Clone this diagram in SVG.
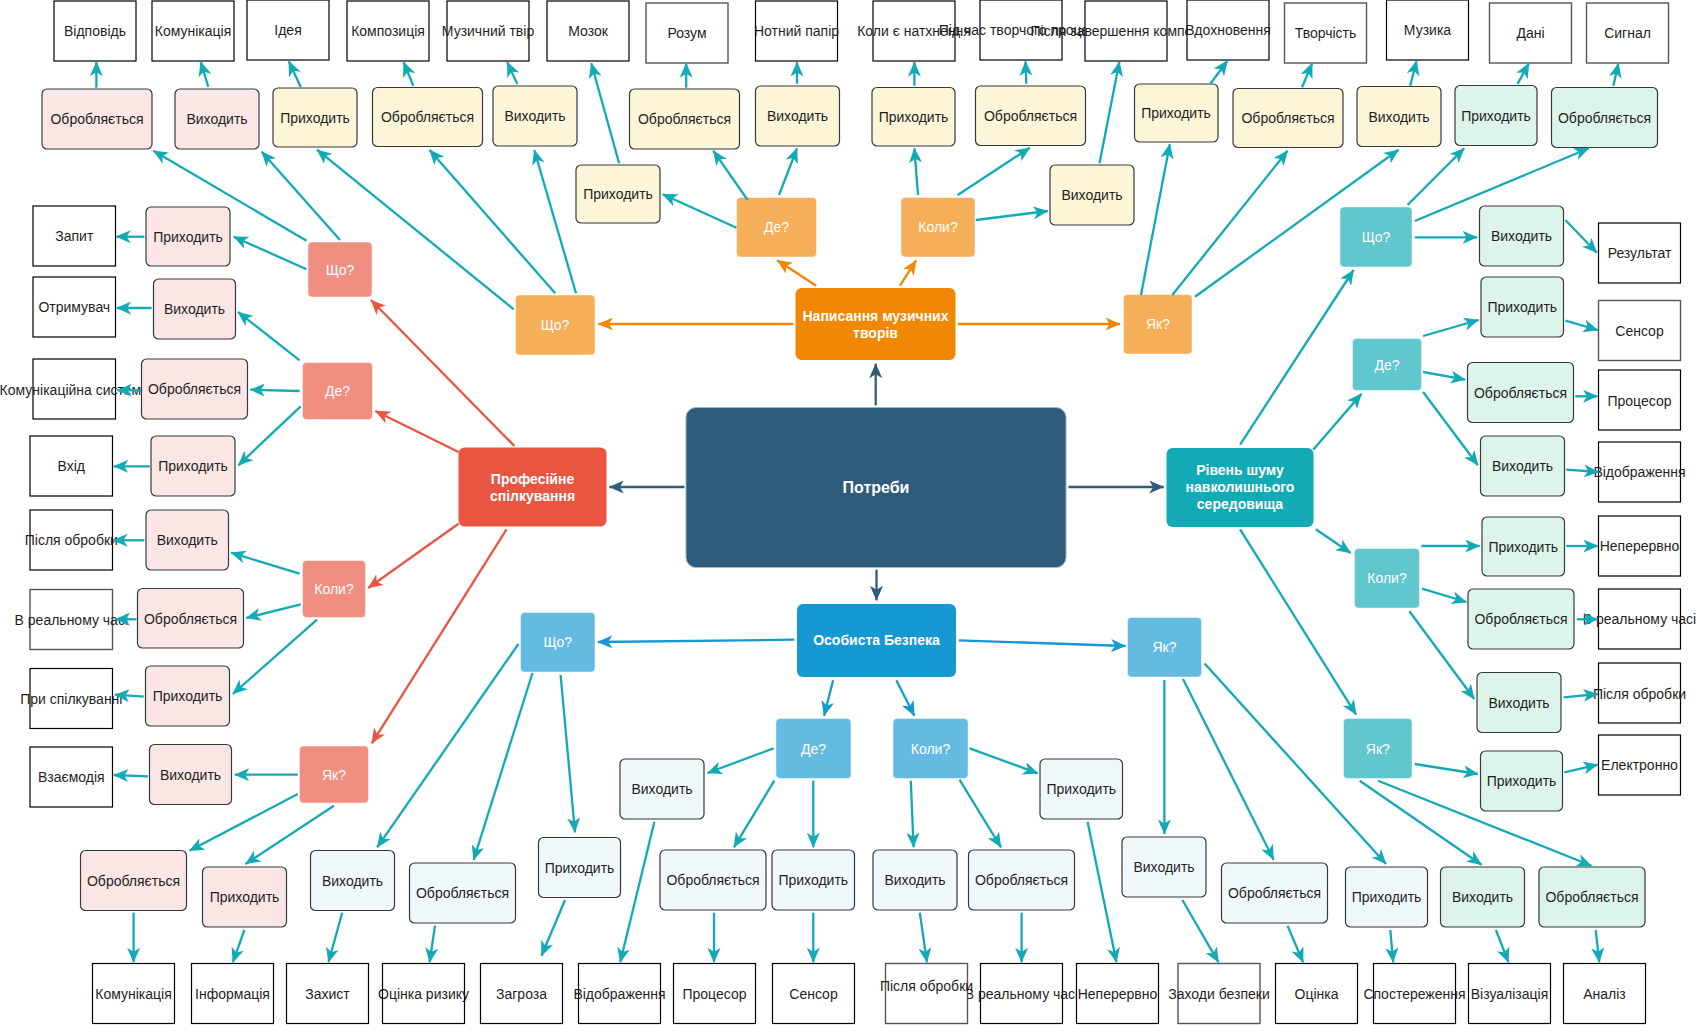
<svg xmlns="http://www.w3.org/2000/svg" width="1697" height="1025" viewBox="0 0 1697 1025">
<defs>
<style>
text{font-family:"Liberation Sans",Arial,sans-serif;font-size:14px;text-anchor:middle;fill:#1f1f1f}
.w{fill:#fff}
.b{font-weight:bold}
.l4{fill:#fff;stroke:#000;stroke-width:1.2}
.l4g{fill:#fff;stroke:#555;stroke-width:1.4}
.l3{stroke:#36393d;stroke-width:1.2}
.pk{fill:#fae6e4}
.yl{fill:#fcf5d7}
.gr{fill:#ddf4ea}
.bl{fill:#f0f8fb}
.q{stroke:#ffffff;stroke-opacity:.45;stroke-width:1}
.qs{fill:#f08e81}
.qo{fill:#f5af58}
.qt{fill:#61c6ce}
.qb{fill:#64bbe2}
#links line{fill:none;stroke-width:2.3}
.ct{stroke:#12aab5;marker-end:url(#mt)}
.cd{stroke:#2f5b7c;marker-end:url(#md)}
.co{stroke:#f08705;marker-end:url(#mo)}
.cr{stroke:#e85642;marker-end:url(#mr)}
.cb{stroke:#1699d3;marker-end:url(#mb)}
</style>
<marker id="mt" viewBox="0 0 15 13" markerWidth="15" markerHeight="13" refX="14.5" refY="6.5" orient="auto" markerUnits="userSpaceOnUse"><path d="M0,0 L15,6.5 L0,13 L4,6.5 Z" fill="#12aab5"/></marker>
<marker id="md" viewBox="0 0 15 13" markerWidth="15" markerHeight="13" refX="14.5" refY="6.5" orient="auto" markerUnits="userSpaceOnUse"><path d="M0,0 L15,6.5 L0,13 L4,6.5 Z" fill="#2f5b7c"/></marker>
<marker id="mo" viewBox="0 0 15 13" markerWidth="15" markerHeight="13" refX="14.5" refY="6.5" orient="auto" markerUnits="userSpaceOnUse"><path d="M0,0 L15,6.5 L0,13 L4,6.5 Z" fill="#f08705"/></marker>
<marker id="mr" viewBox="0 0 15 13" markerWidth="15" markerHeight="13" refX="14.5" refY="6.5" orient="auto" markerUnits="userSpaceOnUse"><path d="M0,0 L15,6.5 L0,13 L4,6.5 Z" fill="#e85642"/></marker>
<marker id="mb" viewBox="0 0 15 13" markerWidth="15" markerHeight="13" refX="14.5" refY="6.5" orient="auto" markerUnits="userSpaceOnUse"><path d="M0,0 L15,6.5 L0,13 L4,6.5 Z" fill="#1699d3"/></marker>
</defs>
<rect width="1697" height="1025" fill="#fff"/>

<g id="nodes">
<!-- top row: leaf boxes -->
<g id="leaf-vidpovid"><rect class="l4" x="54" y="1" width="82" height="60"/><text x="95" y="36">Відповідь</text></g>
<g id="leaf-komunikatsiia-1"><rect class="l4" x="152" y="1" width="82" height="60"/><text x="193" y="36">Комунікація</text></g>
<g id="leaf-ideia"><rect class="l4" x="247" y="0" width="82" height="60"/><text x="288" y="35">Ідея</text></g>
<g id="leaf-kompozytsiia"><rect class="l4" x="347" y="1" width="82" height="60"/><text x="388" y="36">Композиція</text></g>
<g id="leaf-muz-tvir"><rect class="l4" x="447" y="1" width="82" height="60"/><text x="488" y="36">Музичний твір</text></g>
<g id="leaf-mozok"><rect class="l4" x="547" y="1" width="82" height="60"/><text x="588" y="36">Мозок</text></g>
<g id="leaf-rozum"><rect class="l4g" x="646" y="3" width="82" height="60"/><text x="687" y="38">Розум</text></g>
<g id="leaf-notnyi"><rect class="l4" x="755.5" y="1" width="82" height="60"/><text x="796.5" y="36">Нотний папір</text></g>
<g id="leaf-koly-natkh"><rect class="l4" x="873" y="1" width="82" height="60"/><text x="914" y="36">Коли є натхнення</text></g>
<g id="leaf-pid-chas"><rect class="l4" x="980" y="0" width="82" height="60"/><text x="1021" y="35">Під час творчого процесу</text></g>
<g id="leaf-pislia-zav"><rect class="l4" x="1085" y="1" width="82" height="60"/><text x="1126" y="36">Після завершення композиції</text></g>
<g id="leaf-vdokh"><rect class="l4" x="1187" y="0" width="82" height="60"/><text x="1228" y="35">Вдохновення</text></g>
<g id="leaf-tvorchist"><rect class="l4g" x="1284.5" y="3" width="82" height="60"/><text x="1325.5" y="38">Творчість</text></g>
<g id="leaf-muzyka"><rect class="l4" x="1386.5" y="0" width="82" height="60"/><text x="1427.5" y="35">Музика</text></g>
<g id="leaf-dani"><rect class="l4g" x="1489.5" y="3" width="82" height="60"/><text x="1530.5" y="38">Дані</text></g>
<g id="leaf-syhnal"><rect class="l4g" x="1586.5" y="3" width="82" height="60"/><text x="1627.5" y="38">Сигнал</text></g>

<!-- top row: action boxes -->
<g id="a-p1"><rect class="l3 pk" x="42" y="89" width="110" height="60" rx="5"/><text x="97" y="124">Обробляється</text></g>
<g id="a-p2"><rect class="l3 pk" x="175" y="89" width="84" height="60" rx="5"/><text x="217" y="124">Виходить</text></g>
<g id="a-y1"><rect class="l3 yl" x="273" y="88" width="84" height="59" rx="5"/><text x="315" y="122.5">Приходить</text></g>
<g id="a-y2"><rect class="l3 yl" x="372.5" y="87.5" width="110" height="59" rx="5"/><text x="427.5" y="122">Обробляється</text></g>
<g id="a-y3"><rect class="l3 yl" x="493" y="86" width="84" height="60" rx="5"/><text x="535" y="121">Виходить</text></g>
<g id="a-y4"><rect class="l3 yl" x="576" y="165" width="84" height="58" rx="5"/><text x="618" y="199">Приходить</text></g>
<g id="a-y5"><rect class="l3 yl" x="629.5" y="89" width="110" height="60" rx="5"/><text x="684.5" y="124">Обробляється</text></g>
<g id="a-y6"><rect class="l3 yl" x="755.5" y="86" width="84" height="60" rx="5"/><text x="797.5" y="121">Виходить</text></g>
<g id="a-y7"><rect class="l3 yl" x="872" y="87.5" width="83" height="58.5" rx="5"/><text x="913.5" y="122">Приходить</text></g>
<g id="a-y8"><rect class="l3 yl" x="975.5" y="86" width="110" height="59.5" rx="5"/><text x="1030.5" y="120.5">Обробляється</text></g>
<g id="a-y9"><rect class="l3 yl" x="1050" y="165" width="84" height="60" rx="5"/><text x="1092" y="200">Виходить</text></g>
<g id="a-y10"><rect class="l3 yl" x="1134.5" y="84" width="83.5" height="58" rx="5"/><text x="1176" y="118">Приходить</text></g>
<g id="a-y11"><rect class="l3 yl" x="1233" y="88.5" width="110" height="59" rx="5"/><text x="1288" y="123">Обробляється</text></g>
<g id="a-y12"><rect class="l3 yl" x="1357" y="86.5" width="84" height="60" rx="5"/><text x="1399" y="121.5">Виходить</text></g>
<g id="a-g1"><rect class="l3 gr" x="1455" y="85.5" width="82" height="60" rx="5"/><text x="1496" y="120.5">Приходить</text></g>
<g id="a-g2"><rect class="l3 gr" x="1551.5" y="87.5" width="106" height="60" rx="5"/><text x="1604.5" y="122.5">Обробляється</text></g>

<!-- main topics -->
<g id="root"><rect x="686" y="407.5" width="380" height="160" rx="10" fill="#2f5b7c" stroke="#9fb3c4" stroke-width="1"/><text class="w b" x="876" y="493" style="font-size:16px">Потреби</text></g>
<g id="topic-music"><rect x="795.5" y="288" width="160" height="72" rx="6" fill="#f08705"/><text class="w b"><tspan x="875.5" y="321">Написання музичних</tspan><tspan x="875.5" y="337.7">творів</tspan></text></g>
<g id="topic-prof"><rect x="458.5" y="447.5" width="148" height="79" rx="6" fill="#e85642"/><text class="w b"><tspan x="532.5" y="483.7">Професійне</tspan><tspan x="532.5" y="501">спілкування</tspan></text></g>
<g id="topic-noise"><rect x="1166.5" y="448" width="147" height="79" rx="6" fill="#12aab5"/><text class="w b"><tspan x="1240" y="475.3">Рівень шуму</tspan><tspan x="1240" y="492.3">навколишнього</tspan><tspan x="1240" y="509.3">середовища</tspan></text></g>
<g id="topic-safety"><rect x="797" y="604" width="159" height="73" rx="6" fill="#1699d3"/><text class="w b" x="876.5" y="645">Особиста Безпека</text></g>

<!-- question boxes -->
<g id="q-prof-what"><rect class="q qs" x="308" y="242" width="64" height="55" rx="4"/><text class="w" x="340" y="274.5">Що?</text></g>
<g id="q-prof-where"><rect class="q qs" x="302.5" y="362.5" width="70" height="57" rx="4"/><text class="w" x="337.5" y="396">Де?</text></g>
<g id="q-prof-when"><rect class="q qs" x="302.5" y="560.5" width="63" height="57" rx="4"/><text class="w" x="334" y="594">Коли?</text></g>
<g id="q-prof-how"><rect class="q qs" x="299.5" y="746" width="69" height="57" rx="4"/><text class="w" x="334" y="779.5">Як?</text></g>
<g id="q-music-what"><rect class="q qo" x="515.5" y="295" width="79.5" height="60" rx="4"/><text class="w" x="555" y="330">Що?</text></g>
<g id="q-music-where"><rect class="q qo" x="736.5" y="197.5" width="80" height="59.5" rx="4"/><text class="w" x="776.5" y="232">Де?</text></g>
<g id="q-music-when"><rect class="q qo" x="901" y="197.5" width="74" height="59.5" rx="4"/><text class="w" x="938" y="232">Коли?</text></g>
<g id="q-music-how"><rect class="q qo" x="1123.5" y="294.5" width="68.5" height="59.5" rx="4"/><text class="w" x="1158" y="329">Як?</text></g>
<g id="q-noise-what"><rect class="q qt" x="1340" y="207" width="72" height="60" rx="4"/><text class="w" x="1376" y="242">Що?</text></g>
<g id="q-noise-where"><rect class="q qt" x="1352.5" y="338.5" width="69" height="52" rx="4"/><text class="w" x="1387" y="369.5">Де?</text></g>
<g id="q-noise-when"><rect class="q qt" x="1354.5" y="548.5" width="65" height="59.5" rx="4"/><text class="w" x="1387" y="583">Коли?</text></g>
<g id="q-noise-how"><rect class="q qt" x="1343.5" y="718.5" width="68.5" height="60" rx="4"/><text class="w" x="1377.8" y="753.5">Як?</text></g>
<g id="q-safe-what"><rect class="q qb" x="520.5" y="612.5" width="74.5" height="59.5" rx="4"/><text class="w" x="557.8" y="647">Що?</text></g>
<g id="q-safe-where"><rect class="q qb" x="776" y="718.5" width="75" height="60" rx="4"/><text class="w" x="813.5" y="753.5">Де?</text></g>
<g id="q-safe-when"><rect class="q qb" x="893" y="718.5" width="75" height="60" rx="4"/><text class="w" x="930.5" y="753.5">Коли?</text></g>
<g id="q-safe-how"><rect class="q qb" x="1127.5" y="617.5" width="74" height="59.5" rx="4"/><text class="w" x="1164.5" y="652">Як?</text></g>

<!-- professional communication branch: left column -->
<g id="leaf-zapyt"><rect class="l4" x="33" y="206" width="82.5" height="60"/><text x="74.3" y="241">Запит</text></g>
<g id="leaf-otrymuvach"><rect class="l4" x="33" y="277" width="82.5" height="60"/><text x="74.3" y="312">Отримувач</text></g>
<g id="leaf-kom-syst"><rect class="l4" x="33" y="359" width="82.5" height="60"/><text x="74.3" y="395">Комунікаційна система</text></g>
<g id="leaf-vkhid"><rect class="l4" x="30" y="436" width="82.5" height="60"/><text x="71.3" y="471">Вхід</text></g>
<g id="leaf-pislia-1"><rect class="l4" x="30" y="510" width="82.5" height="60"/><text x="71.3" y="545">Після обробки</text></g>
<g id="leaf-realtime-1"><rect class="l4g" x="30" y="589.5" width="82.5" height="60"/><text x="71.3" y="624.5">В реальному часі</text></g>
<g id="leaf-pry-spilk"><rect class="l4" x="30" y="668.5" width="82.5" height="60"/><text x="71.3" y="704">При спілкуванні</text></g>
<g id="leaf-vzaiemodiia"><rect class="l4" x="30" y="747" width="82.5" height="60"/><text x="71.3" y="782">Взаємодія</text></g>
<g id="a-p3"><rect class="l3 pk" x="146" y="207" width="84" height="59" rx="5"/><text x="188" y="241.5">Приходить</text></g>
<g id="a-p4"><rect class="l3 pk" x="153.5" y="279" width="82" height="60" rx="5"/><text x="194.5" y="314">Виходить</text></g>
<g id="a-p5"><rect class="l3 pk" x="141.5" y="359" width="106" height="60" rx="5"/><text x="194.5" y="394">Обробляється</text></g>
<g id="a-p6"><rect class="l3 pk" x="151" y="436" width="84" height="60" rx="5"/><text x="193" y="471">Приходить</text></g>
<g id="a-p7"><rect class="l3 pk" x="146" y="510" width="82.5" height="60" rx="5"/><text x="187.3" y="545">Виходить</text></g>
<g id="a-p8"><rect class="l3 pk" x="137.5" y="588.5" width="106" height="59.5" rx="5"/><text x="190.5" y="623.5">Обробляється</text></g>
<g id="a-p9"><rect class="l3 pk" x="145.5" y="666" width="84" height="60" rx="5"/><text x="187.5" y="701">Приходить</text></g>
<g id="a-p10"><rect class="l3 pk" x="149.5" y="744.5" width="82" height="60" rx="5"/><text x="190.5" y="779.5">Виходить</text></g>
<g id="a-p11"><rect class="l3 pk" x="80.5" y="850.5" width="106" height="60" rx="5"/><text x="133.5" y="885.5">Обробляється</text></g>
<g id="a-p12"><rect class="l3 pk" x="202.5" y="867" width="84" height="60" rx="5"/><text x="244.5" y="902">Приходить</text></g>

<!-- noise branch: right column -->
<g id="a-g3"><rect class="l3 gr" x="1479.5" y="206" width="84" height="60" rx="5"/><text x="1521.5" y="241">Виходить</text></g>
<g id="leaf-rezultat"><rect class="l4" x="1598.5" y="223" width="82" height="60"/><text x="1639.5" y="258">Результат</text></g>
<g id="a-g4"><rect class="l3 gr" x="1481" y="277" width="82.5" height="60" rx="5"/><text x="1522.3" y="312">Приходить</text></g>
<g id="leaf-sensor-1"><rect class="l4g" x="1598.5" y="300.5" width="82" height="60"/><text x="1639.5" y="336">Сенсор</text></g>
<g id="a-g5"><rect class="l3 gr" x="1467.5" y="362.5" width="106" height="60" rx="5"/><text x="1520.5" y="397.5">Обробляється</text></g>
<g id="leaf-protsesor-1"><rect class="l4" x="1598.5" y="370" width="82" height="60"/><text x="1639.5" y="406">Процесор</text></g>
<g id="a-g6"><rect class="l3 gr" x="1480.5" y="436" width="84" height="60" rx="5"/><text x="1522.5" y="471">Виходить</text></g>
<g id="leaf-vidobr-1"><rect class="l4" x="1598.5" y="442" width="82" height="60"/><text x="1639.5" y="477">Відображення</text></g>
<g id="a-g7"><rect class="l3 gr" x="1482" y="517" width="82.5" height="59" rx="5"/><text x="1523.3" y="551.5">Приходить</text></g>
<g id="leaf-neperervno-1"><rect class="l4" x="1598.5" y="516" width="82" height="60"/><text x="1639.5" y="551">Неперервно</text></g>
<g id="a-g8"><rect class="l3 gr" x="1468" y="589" width="106" height="60" rx="5"/><text x="1521" y="624">Обробляється</text></g>
<g id="leaf-realtime-2"><rect class="l4" x="1598.5" y="589" width="82" height="60"/><text x="1639.5" y="624">В реальному часі</text></g>
<g id="a-g9"><rect class="l3 gr" x="1477" y="672.5" width="84" height="60" rx="5"/><text x="1519" y="707.5">Виходить</text></g>
<g id="leaf-pislia-2"><rect class="l4" x="1598.5" y="663" width="82" height="60"/><text x="1639.5" y="699">Після обробки</text></g>
<g id="a-g10"><rect class="l3 gr" x="1480.5" y="751" width="82" height="60" rx="5"/><text x="1521.5" y="786">Приходить</text></g>
<g id="leaf-elektronno"><rect class="l4" x="1598.5" y="735" width="82" height="60"/><text x="1639.5" y="770">Електронно</text></g>
<g id="a-g11"><rect class="l3 gr" x="1440.5" y="867" width="84" height="60" rx="5"/><text x="1482.5" y="902">Виходить</text></g>
<g id="a-g12"><rect class="l3 gr" x="1539" y="867" width="106" height="60" rx="5"/><text x="1592" y="902">Обробляється</text></g>

<!-- personal safety branch -->
<g id="a-b1"><rect class="l3 bl" x="310.5" y="850.5" width="84" height="60" rx="5"/><text x="352.5" y="885.5">Виходить</text></g>
<g id="a-b2"><rect class="l3 bl" x="409.5" y="863" width="106" height="60" rx="5"/><text x="462.5" y="898">Обробляється</text></g>
<g id="a-b3"><rect class="l3 bl" x="538.5" y="837.5" width="82" height="60" rx="5"/><text x="579.5" y="872.5">Приходить</text></g>
<g id="a-b4"><rect class="l3 bl" x="620" y="759" width="84" height="60" rx="5"/><text x="662" y="794">Виходить</text></g>
<g id="a-b5"><rect class="l3 bl" x="660" y="850" width="106" height="60" rx="5"/><text x="713" y="885">Обробляється</text></g>
<g id="a-b6"><rect class="l3 bl" x="772" y="850" width="82.5" height="60" rx="5"/><text x="813.3" y="885">Приходить</text></g>
<g id="a-b7"><rect class="l3 bl" x="873" y="850" width="84" height="60" rx="5"/><text x="915" y="885">Виходить</text></g>
<g id="a-b8"><rect class="l3 bl" x="968.5" y="850" width="106" height="60" rx="5"/><text x="1021.5" y="885">Обробляється</text></g>
<g id="a-b9"><rect class="l3 bl" x="1040" y="759" width="82.5" height="60" rx="5"/><text x="1081.3" y="794">Приходить</text></g>
<g id="a-b10"><rect class="l3 bl" x="1122" y="837" width="84" height="60" rx="5"/><text x="1164" y="872">Виходить</text></g>
<g id="a-b11"><rect class="l3 bl" x="1221.5" y="863" width="106" height="60" rx="5"/><text x="1274.5" y="898">Обробляється</text></g>
<g id="a-b12"><rect class="l3 bl" x="1345.5" y="867" width="82" height="60" rx="5"/><text x="1386.5" y="902">Приходить</text></g>

<!-- bottom row: leaf boxes -->
<g id="leaf-komunikatsiia-2"><rect class="l4" x="92.5" y="963.5" width="82" height="60"/><text x="133.5" y="998.5">Комунікація</text></g>
<g id="leaf-informatsiia"><rect class="l4" x="191.5" y="963.5" width="82" height="60"/><text x="232.5" y="998.5">Інформація</text></g>
<g id="leaf-zakhyst"><rect class="l4" x="286.5" y="963.5" width="82" height="60"/><text x="327.5" y="998.5">Захист</text></g>
<g id="leaf-otsinka-ryzyku"><rect class="l4" x="382.5" y="963.5" width="82" height="60"/><text x="423.5" y="998.5">Оцінка ризику</text></g>
<g id="leaf-zahroza"><rect class="l4" x="480.5" y="963.5" width="82" height="60"/><text x="521.5" y="998.5">Загроза</text></g>
<g id="leaf-vidobr-2"><rect class="l4" x="578.5" y="963.5" width="82" height="60"/><text x="619.5" y="998.5">Відображення</text></g>
<g id="leaf-protsesor-2"><rect class="l4" x="673.5" y="963.5" width="82" height="60"/><text x="714.5" y="998.5">Процесор</text></g>
<g id="leaf-sensor-2"><rect class="l4" x="772.5" y="963.5" width="82" height="60"/><text x="813.5" y="998.5">Сенсор</text></g>
<g id="leaf-realtime-3"><rect class="l4" x="980.5" y="963.5" width="82" height="60"/><text x="1021.5" y="998.5">В реальному часі</text></g>
<g id="leaf-pislia-3"><rect class="l4g" x="885.5" y="963.5" width="82" height="60"/><text x="926.5" y="991">Після обробки</text></g>
<g id="leaf-neperervno-2"><rect class="l4" x="1076.5" y="963.5" width="82" height="60"/><text x="1117.5" y="998.5">Неперервно</text></g>
<g id="leaf-zakhody"><rect class="l4g" x="1178" y="963.5" width="82" height="60"/><text x="1219" y="998.5">Заходи безпеки</text></g>
<g id="leaf-otsinka"><rect class="l4" x="1275.5" y="963.5" width="82" height="60"/><text x="1316.5" y="998.5">Оцінка</text></g>
<g id="leaf-sposterezhennia"><rect class="l4" x="1373.5" y="963.5" width="82" height="60"/><text x="1414.5" y="998.5">Спостереження</text></g>
<g id="leaf-vizualizatsiia"><rect class="l4" x="1468.5" y="963.5" width="82" height="60"/><text x="1509.5" y="998.5">Візуалізація</text></g>
<g id="leaf-analiz"><rect class="l4" x="1563.5" y="963.5" width="82" height="60"/><text x="1604.5" y="998.5">Аналіз</text></g>
</g>

<g id="links">
<!-- from the root -->
<line class="cd" x1="875.7" y1="405.3" x2="875.7" y2="363.7"/>
<line class="cd" x1="684.4" y1="487" x2="609.3" y2="487"/>
<line class="cd" x1="1068.5" y1="487" x2="1163.7" y2="487"/>
<line class="cd" x1="876.5" y1="569.7" x2="876.5" y2="600.3"/>
<!-- music topic -->
<line class="co" x1="816.2" y1="285.7" x2="777.2" y2="260.3"/>
<line class="co" x1="899.9" y1="285.7" x2="916.2" y2="260.3"/>
<line class="co" x1="793.4" y1="324" x2="598.5" y2="324"/>
<line class="co" x1="957.7" y1="324" x2="1120.1" y2="324"/>
<!-- professional topic -->
<line class="cr" x1="514.4" y1="446" x2="371" y2="300"/>
<line class="cr" x1="458.5" y1="452" x2="375.4" y2="411"/>
<line class="cr" x1="458.5" y1="523.7" x2="368.2" y2="588"/>
<line class="cr" x1="506.5" y1="529.3" x2="371.8" y2="743.3"/>
<!-- safety topic -->
<line class="cb" x1="794.2" y1="639.7" x2="597.8" y2="642"/>
<line class="cb" x1="958.8" y1="640.3" x2="1125.6" y2="646"/>
<line class="cb" x1="833.1" y1="680.3" x2="824.1" y2="715.7"/>
<line class="cb" x1="896.3" y1="680.3" x2="914.4" y2="715.7"/>
<!-- noise topic -->
<line class="ct" x1="1240.1" y1="444.7" x2="1353.6" y2="270"/>
<line class="ct" x1="1313.2" y1="449.7" x2="1361.5" y2="393.7"/>
<line class="ct" x1="1315.8" y1="529.3" x2="1350.7" y2="553"/>
<line class="ct" x1="1240.1" y1="529.3" x2="1356.1" y2="714.7"/>

<!-- professional details -->
<line class="ct" x1="306.5" y1="240.7" x2="153.4" y2="150.7"/>
<line class="ct" x1="340" y1="240" x2="261.7" y2="151.7"/>
<line class="ct" x1="306.5" y1="269.3" x2="233.6" y2="236.7"/>
<line class="ct" x1="144.4" y1="236.7" x2="116.2" y2="236.7"/>
<line class="ct" x1="151.6" y1="308" x2="116.6" y2="308"/>
<line class="ct" x1="96.4" y1="87.7" x2="96.4" y2="61.7"/>
<line class="ct" x1="208.3" y1="87" x2="200.7" y2="61.7"/>
<line class="ct" x1="299.6" y1="360.3" x2="238" y2="312"/>
<line class="ct" x1="299.6" y1="391" x2="250.2" y2="389.7"/>
<line class="ct" x1="140.8" y1="390.3" x2="117.3" y2="390.3"/>
<line class="ct" x1="300.7" y1="406.3" x2="238.3" y2="465.3"/>
<line class="ct" x1="149.8" y1="466.3" x2="113.7" y2="466.3"/>
<line class="ct" x1="299.6" y1="573.7" x2="231" y2="552.7"/>
<line class="ct" x1="144.4" y1="540.3" x2="113" y2="540.3"/>
<line class="ct" x1="300.7" y1="604.3" x2="246.2" y2="618"/>
<line class="ct" x1="136.5" y1="619.3" x2="115.5" y2="619.3"/>
<line class="ct" x1="317" y1="619.7" x2="232.8" y2="694"/>
<line class="ct" x1="143.7" y1="696.7" x2="114.8" y2="694.7"/>
<line class="ct" x1="297.8" y1="774.7" x2="234.7" y2="774.7"/>
<line class="ct" x1="148" y1="776.3" x2="113.7" y2="775"/>
<line class="ct" x1="297.8" y1="794" x2="189.5" y2="850.7"/>
<line class="ct" x1="333.9" y1="805.7" x2="245.5" y2="864"/>
<line class="ct" x1="133.6" y1="912.7" x2="133.6" y2="962.3"/>
<line class="ct" x1="244.4" y1="930" x2="232.8" y2="962.3"/>

<!-- music details -->
<line class="ct" x1="513.7" y1="309.3" x2="317" y2="149.7"/>
<line class="ct" x1="555.2" y1="293.3" x2="429.6" y2="150"/>
<line class="ct" x1="576" y1="293.3" x2="534.3" y2="150"/>
<line class="ct" x1="300.7" y1="87" x2="288.8" y2="61.3"/>
<line class="ct" x1="413.3" y1="85.7" x2="403.6" y2="62"/>
<line class="ct" x1="517.3" y1="84" x2="507.2" y2="62"/>
<line class="ct" x1="736.4" y1="227.7" x2="662.7" y2="194.3"/>
<line class="ct" x1="747.6" y1="200" x2="713.3" y2="150.7"/>
<line class="ct" x1="779" y1="195" x2="797" y2="148.3"/>
<line class="ct" x1="619.1" y1="163.3" x2="591.3" y2="63.3"/>
<line class="ct" x1="686.2" y1="87.7" x2="686.2" y2="63.3"/>
<line class="ct" x1="797" y1="83.7" x2="797" y2="62"/>
<line class="ct" x1="918" y1="195" x2="914.4" y2="148.3"/>
<line class="ct" x1="957.7" y1="195" x2="1029.9" y2="147.7"/>
<line class="ct" x1="975.7" y1="220" x2="1047.9" y2="211"/>
<line class="ct" x1="914.4" y1="85.7" x2="914.4" y2="62"/>
<line class="ct" x1="1026.3" y1="83.7" x2="1025.5" y2="61.3"/>
<line class="ct" x1="1099.5" y1="163.3" x2="1119.4" y2="61.7"/>
<line class="ct" x1="1141" y1="295" x2="1169.8" y2="144"/>
<line class="ct" x1="1172.3" y1="295" x2="1287.6" y2="150.7"/>
<line class="ct" x1="1195" y1="296.7" x2="1398.6" y2="149.7"/>
<line class="ct" x1="1210.2" y1="84" x2="1227.5" y2="60.7"/>
<line class="ct" x1="1302" y1="87.3" x2="1312.2" y2="63.3"/>
<line class="ct" x1="1410.2" y1="85.7" x2="1416.6" y2="60.7"/>

<!-- noise details -->
<line class="ct" x1="1407.6" y1="205" x2="1464.2" y2="148.3"/>
<line class="ct" x1="1414.8" y1="221" x2="1588.8" y2="148.3"/>
<line class="ct" x1="1414.8" y1="237.3" x2="1477.1" y2="237.3"/>
<line class="ct" x1="1517.5" y1="84" x2="1529" y2="63.3"/>
<line class="ct" x1="1613.4" y1="85.7" x2="1618.4" y2="63.3"/>
<line class="ct" x1="1565.4" y1="220" x2="1596.8" y2="252.7"/>
<line class="ct" x1="1423.1" y1="336" x2="1478.6" y2="320"/>
<line class="ct" x1="1565.4" y1="320.7" x2="1597.9" y2="330"/>
<line class="ct" x1="1423.1" y1="372" x2="1465.3" y2="379.7"/>
<line class="ct" x1="1575.2" y1="396.3" x2="1597.5" y2="396.3"/>
<line class="ct" x1="1423.1" y1="392" x2="1477.9" y2="465.3"/>
<line class="ct" x1="1566.2" y1="469.7" x2="1598.6" y2="472"/>
<line class="ct" x1="1421.3" y1="546" x2="1479.7" y2="546"/>
<line class="ct" x1="1566.2" y1="546" x2="1597.9" y2="546"/>
<line class="ct" x1="1422" y1="588.7" x2="1466.4" y2="602"/>
<line class="ct" x1="1577" y1="619.3" x2="1597.9" y2="619.3"/>
<line class="ct" x1="1409.4" y1="611.3" x2="1474.3" y2="699"/>
<line class="ct" x1="1563.6" y1="697.3" x2="1597.9" y2="694"/>
<line class="ct" x1="1414.8" y1="764" x2="1477.9" y2="774"/>
<line class="ct" x1="1564.4" y1="772.3" x2="1597.9" y2="764.7"/>
<line class="ct" x1="1359.7" y1="780.7" x2="1481.5" y2="864.7"/>
<line class="ct" x1="1378.1" y1="780.7" x2="1591.4" y2="865.7"/>
<line class="ct" x1="1495.9" y1="930" x2="1508.5" y2="962.3"/>
<line class="ct" x1="1595.7" y1="930" x2="1599.3" y2="962.3"/>

<!-- safety details -->
<line class="ct" x1="518.4" y1="644" x2="377.2" y2="847.3"/>
<line class="ct" x1="532.5" y1="673" x2="473.6" y2="860"/>
<line class="ct" x1="560.6" y1="675" x2="575" y2="832.3"/>
<line class="ct" x1="342.2" y1="912.7" x2="328.5" y2="962.3"/>
<line class="ct" x1="435" y1="925.7" x2="429.6" y2="962.3"/>
<line class="ct" x1="565" y1="900" x2="541.5" y2="955.7"/>
<line class="ct" x1="773.6" y1="748.3" x2="707.5" y2="773"/>
<line class="ct" x1="774.3" y1="780.7" x2="733.9" y2="847.3"/>
<line class="ct" x1="813.3" y1="780.7" x2="813.3" y2="847.3"/>
<line class="ct" x1="654.4" y1="821.7" x2="620.2" y2="962.3"/>
<line class="ct" x1="714" y1="912.7" x2="714" y2="962.3"/>
<line class="ct" x1="813.3" y1="912.7" x2="813.3" y2="962.3"/>
<line class="ct" x1="910.8" y1="780.7" x2="913.6" y2="847.3"/>
<line class="ct" x1="959.5" y1="779.7" x2="1001" y2="847.3"/>
<line class="ct" x1="969.6" y1="748.3" x2="1037.8" y2="773.3"/>
<line class="ct" x1="919.8" y1="912.7" x2="927" y2="962.3"/>
<line class="ct" x1="1021.6" y1="912.7" x2="1021.6" y2="962.3"/>
<line class="ct" x1="1087.6" y1="821.7" x2="1116.5" y2="962.3"/>
<line class="ct" x1="1164.4" y1="680" x2="1164.4" y2="834"/>
<line class="ct" x1="1183" y1="679" x2="1273.6" y2="859.7"/>
<line class="ct" x1="1204.6" y1="663.4" x2="1386" y2="864"/>
<line class="ct" x1="1182.4" y1="900" x2="1218.5" y2="962.3"/>
<line class="ct" x1="1287.6" y1="925.7" x2="1303.1" y2="962.3"/>
<line class="ct" x1="1390.3" y1="930" x2="1393.2" y2="962.3"/>
</g>
</svg>
